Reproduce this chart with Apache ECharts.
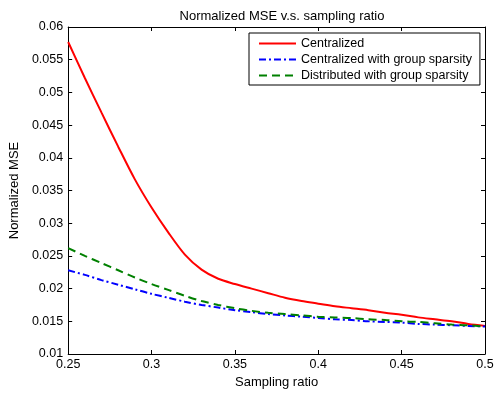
<!DOCTYPE html>
<html><head><meta charset="utf-8">
<script src="https://cdn.jsdelivr.net/npm/echarts@6/dist/echarts.min.js"></script>
<style>html,body{margin:0;padding:0;background:#fff}#c{width:500px;height:394px}</style>
</head><body><div id="c"></div>
<script>
const ratios = [0.25,0.26,0.27,0.28,0.29,0.30,0.31,0.32,0.33,0.34,0.35,0.36,0.37,0.38,0.39,0.40,0.41,0.42,0.43,0.44,0.45,0.46,0.47,0.48,0.49,0.50];
const centralized = [0.0577,0.0522,0.0469,0.0417,0.0367,0.0324,0.0286,0.0252,0.0229,0.0215,0.0207,0.0200,0.0193,0.0186,0.0181,0.0177,0.0173,0.0170,0.0167,0.0163,0.0160,0.0156,0.0153,0.0150,0.0146,0.0143];
const centralizedGroup = [0.0228,0.0221,0.0213,0.0206,0.0199,0.0192,0.0186,0.0180,0.0175,0.0171,0.0167,0.0164,0.0161,0.0159,0.0157,0.0155,0.0153,0.0152,0.0150,0.0149,0.0148,0.0146,0.0145,0.0144,0.0143,0.0142];
const distributedGroup = [0.0262,0.0250,0.0239,0.0228,0.0217,0.0207,0.0198,0.0189,0.0181,0.0175,0.0170,0.0166,0.0163,0.0161,0.0159,0.0157,0.0156,0.0155,0.0153,0.0152,0.0150,0.0149,0.0147,0.0145,0.0144,0.0142];
const seriesNames = ['Centralized','Centralized with group sparsity','Distributed with group sparsity'];

const pair = (ys) => ratios.map((x,i)=>[x,ys[i]]);
const font = 'Liberation Sans, Arial, sans-serif';
const chart = echarts.init(document.getElementById('c'), null, {renderer:'canvas'});
const axisCommon = {
  axisLine:{show:true,onZero:false,lineStyle:{color:'#000',width:1}},
  axisTick:{show:true,inside:true,length:4,lineStyle:{color:'#000'}},
  splitLine:{show:false},
};
chart.setOption({
  animation:false,
  backgroundColor:'#fff',
  title:{text:'Normalized MSE v.s. sampling ratio',left:277,top:5,textAlign:'center',
    textStyle:{fontFamily:font,fontSize:13,fontWeight:'normal',color:'#000'}},
  grid:{left:67,right:15,top:27,bottom:39,show:false},
  legend:{
    orient:'vertical',left:249,top:33,
    data:seriesNames,
    backgroundColor:'#fff',borderColor:'#000',borderWidth:1,
    padding:[4,8,3,9],itemGap:3,itemWidth:37,itemHeight:12,
    itemStyle:{color:'rgba(0,0,0,0)',borderColor:'rgba(0,0,0,0)',borderWidth:0},
    textStyle:{fontFamily:font,fontSize:12.5,color:'#000',padding:[0,0,0,0]}
  },
  xAxis:[
    Object.assign({type:'value',min:0.25,max:0.5,interval:0.05,position:'bottom',
      name:'Sampling ratio',nameLocation:'middle',nameGap:22,
      nameTextStyle:{fontFamily:font,fontSize:13,color:'#000'},
      axisLabel:{fontFamily:font,fontSize:12.5,color:'#000',margin:4,formatter:v=>String(+v.toFixed(3))}},axisCommon),
    Object.assign({type:'value',min:0.25,max:0.5,interval:0.05,position:'top',axisLabel:{show:false}},axisCommon)
  ],
  yAxis:[
    Object.assign({type:'value',min:0.01,max:0.06,interval:0.005,position:'left',
      name:'Normalized MSE',nameLocation:'middle',nameGap:46,
      nameTextStyle:{fontFamily:font,fontSize:13,color:'#000'},
      axisLabel:{fontFamily:font,fontSize:12.5,color:'#000',margin:5,formatter:v=>String(+v.toFixed(3))}},axisCommon),
    Object.assign({type:'value',min:0.01,max:0.06,interval:0.005,position:'right',axisLabel:{show:false}},axisCommon)
  ],
  series:[
    {name:seriesNames[0],type:'line',data:pair(centralized),smooth:0.3,showSymbol:false,symbol:'none',
      itemStyle:{color:'#ff0000'},lineStyle:{color:'#ff0000',width:2,type:'solid'}},
    {name:seriesNames[1],type:'line',data:pair(centralizedGroup),smooth:0.3,showSymbol:false,symbol:'none',
      itemStyle:{color:'#0000ff'},lineStyle:{color:'#0000ff',width:2,type:[7,3,2,3]}},
    {name:seriesNames[2],type:'line',data:pair(distributedGroup),smooth:0.3,showSymbol:false,symbol:'none',
      itemStyle:{color:'#008000'},lineStyle:{color:'#008000',width:2,type:[8,5]}}
  ]
});
</script></body></html>
